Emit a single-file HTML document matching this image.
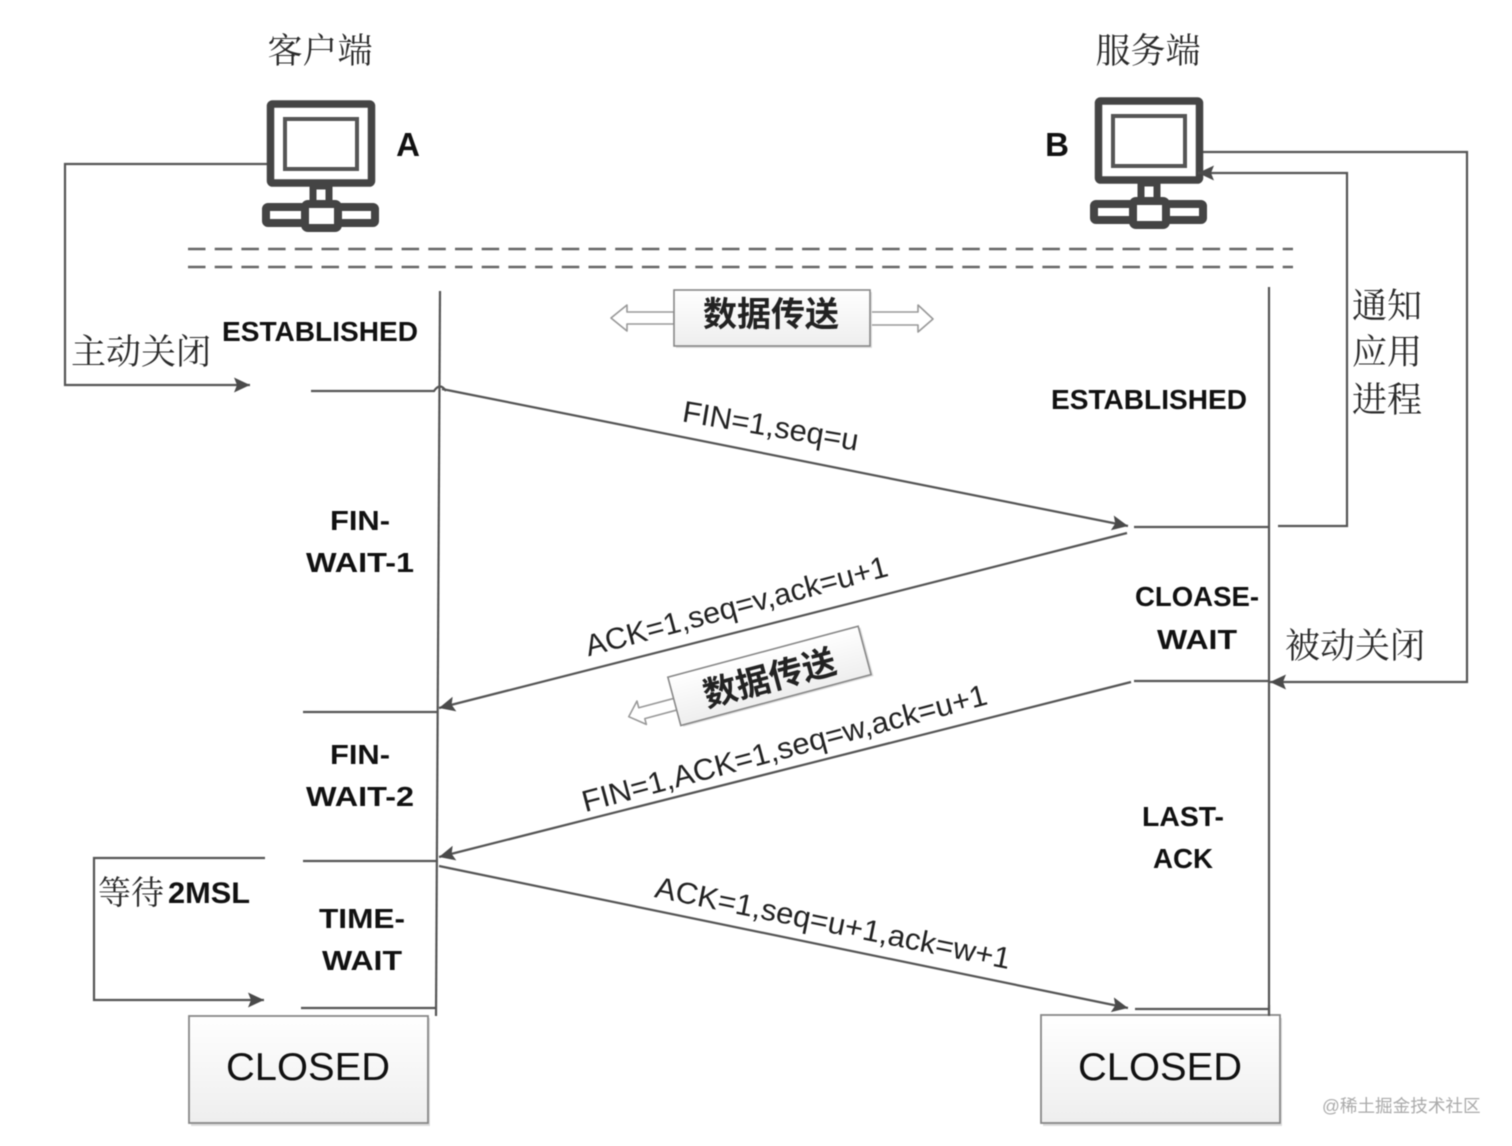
<!DOCTYPE html>
<html><head><meta charset="utf-8"><style>
html,body{margin:0;padding:0;background:#fff}
svg{display:block;filter:blur(0.45px)}
.zh{font-family:"Liberation Serif","Noto Serif CJK SC",serif;fill:#2a2a2a}
.b{font-family:"Liberation Sans","Noto Sans CJK SC",sans-serif;font-weight:bold;font-size:28px;fill:#111}
.l{font-family:"Liberation Sans","Noto Sans CJK SC",sans-serif;font-size:30px;fill:#222}
.c{font-family:"Liberation Sans",sans-serif;font-size:39px;fill:#111}
.d{font-family:"Liberation Sans","Noto Sans CJK SC",sans-serif;font-weight:bold;font-size:34px;fill:#222}
</style></head><body>
<svg width="1512" height="1146" viewBox="0 0 1512 1146" xmlns="http://www.w3.org/2000/svg">
<defs>
<linearGradient id="g" x1="0" y1="0" x2="0" y2="1"><stop offset="0" stop-color="#fff"/><stop offset="1" stop-color="#eee"/></linearGradient>
<marker id="a" markerUnits="userSpaceOnUse" markerWidth="18" markerHeight="18" refX="16" refY="8" orient="auto"><path d="M0 0.5L16 8L0 15.5L3 8Z" fill="#4a4a4a"/></marker>
<g id="pc">
<rect x="270.5" y="104" width="101" height="79" rx="2" fill="#fff" stroke="#444" stroke-width="7.5"/>
<rect x="285" y="119" width="72" height="50" fill="#fff" stroke="#555" stroke-width="4"/>
<rect x="313" y="186" width="16" height="18" fill="#fff" stroke="#444" stroke-width="7"/>
<rect x="266" y="207" width="109" height="16" rx="2" fill="#fff" stroke="#444" stroke-width="8"/>
<rect x="305" y="204" width="33" height="24" rx="3" fill="#fff" stroke="#444" stroke-width="8"/>
</g>
</defs>
<rect width="1512" height="1146" fill="#fff"/>
<use href="#pc"/>
<use href="#pc" x="828" y="-3"/>
<text x="320" y="63" text-anchor="middle" class="zh" font-size="35">客户端</text>
<text x="1148" y="63" text-anchor="middle" class="zh" font-size="35">服务端</text>
<text x="408" y="156" text-anchor="middle" class="b" style="font-size:33px">A</text>
<text x="1057" y="156" text-anchor="middle" class="b" style="font-size:33px">B</text>

<g stroke="#666" stroke-width="2.5" fill="none" stroke-dasharray="17.5 9.2">
<path d="M188 249H1293"/><path d="M188 267H1293"/>
</g>

<g stroke="#555" stroke-width="2.2" fill="none">
<path d="M267 164H65V385H250" marker-end="url(#a)"/>
<path d="M1203 152H1467V682H1270" marker-end="url(#a)"/>
<path d="M1278 526H1347V173H1198" marker-end="url(#a)"/>
<path d="M265 858H94V1000H264" marker-end="url(#a)"/>
<path d="M440 291L436 1016"/>
<path d="M1269 287V1016"/>
<path d="M311 391H434Q440 382 446 391"/>
<path d="M442 389L1128 526" marker-end="url(#a)"/>
<path d="M1127 533L439 708" marker-end="url(#a)"/>
<path d="M1131 682L439 857" marker-end="url(#a)"/>
<path d="M439 866L1128 1008" marker-end="url(#a)"/>
<path d="M1134 527H1269"/>
<path d="M1134 681H1269"/>
<path d="M1135 1009H1269"/>
<path d="M303 712H438"/>
<path d="M303 861H438"/>
<path d="M301 1008H437"/>
</g>

<text x="320" y="341" text-anchor="middle" class="b" textLength="196" lengthAdjust="spacingAndGlyphs">ESTABLISHED</text>
<text x="1149" y="409" text-anchor="middle" class="b" textLength="196" lengthAdjust="spacingAndGlyphs">ESTABLISHED</text>
<text x="360" y="530" text-anchor="middle" class="b" textLength="60" lengthAdjust="spacingAndGlyphs">FIN-</text>
<text x="360" y="572" text-anchor="middle" class="b" textLength="108" lengthAdjust="spacingAndGlyphs">WAIT-1</text>
<text x="360" y="764" text-anchor="middle" class="b" textLength="60" lengthAdjust="spacingAndGlyphs">FIN-</text>
<text x="360" y="806" text-anchor="middle" class="b" textLength="108" lengthAdjust="spacingAndGlyphs">WAIT-2</text>
<text x="362" y="928" text-anchor="middle" class="b" textLength="86" lengthAdjust="spacingAndGlyphs">TIME-</text>
<text x="362" y="970" text-anchor="middle" class="b" textLength="80" lengthAdjust="spacingAndGlyphs">WAIT</text>
<text x="1197" y="606" text-anchor="middle" class="b" textLength="124" lengthAdjust="spacingAndGlyphs">CLOASE-</text>
<text x="1197" y="649" text-anchor="middle" class="b" textLength="80" lengthAdjust="spacingAndGlyphs">WAIT</text>
<text x="1183" y="826" text-anchor="middle" class="b" textLength="82" lengthAdjust="spacingAndGlyphs">LAST-</text>
<text x="1183" y="868" text-anchor="middle" class="b" textLength="60" lengthAdjust="spacingAndGlyphs">ACK</text>

<text x="141" y="364" text-anchor="middle" class="zh" font-size="35">主动关闭</text>
<text x="1355" y="658" text-anchor="middle" class="zh" font-size="35">被动关闭</text>
<text x="1387" y="318" text-anchor="middle" class="zh" font-size="35">通知</text>
<text x="1387" y="364" text-anchor="middle" class="zh" font-size="35">应用</text>
<text x="1387" y="412" text-anchor="middle" class="zh" font-size="35">进程</text>
<text x="98" y="904" class="zh" font-size="33">等待</text>
<text x="168" y="903" class="b" textLength="82" lengthAdjust="spacingAndGlyphs" style="font-size:30px">2MSL</text>

<text transform="translate(769 436) rotate(9.5)" text-anchor="middle" class="l" textLength="178" lengthAdjust="spacingAndGlyphs">FIN=1,seq=u</text>
<text transform="translate(739 616) rotate(-15)" text-anchor="middle" class="l" textLength="312" lengthAdjust="spacingAndGlyphs">ACK=1,seq=v,ack=u+1</text>
<text transform="translate(787 758) rotate(-15)" text-anchor="middle" class="l" textLength="418" lengthAdjust="spacingAndGlyphs">FIN=1,ACK=1,seq=w,ack=u+1</text>
<text transform="translate(831 933) rotate(11.5)" text-anchor="middle" class="l" textLength="362" lengthAdjust="spacingAndGlyphs">ACK=1,seq=u+1,ack=w+1</text>

<!-- data transfer top -->
<g fill="#fff" stroke="#999" stroke-width="1.6" stroke-linejoin="round">
<path d="M674 312H627V305L611 318L627 331V324H674Z"/>
<path d="M870 312H918V305L933 319L918 332V325H870Z"/>
</g>
<rect x="676" y="292" width="196" height="56" fill="#ddd"/>
<rect x="674" y="290" width="196" height="56" fill="url(#g)" stroke="#888" stroke-width="1.6"/>
<text x="771" y="326" text-anchor="middle" class="d">数据传送</text>

<!-- data transfer rotated -->
<g transform="translate(769 676) rotate(-15)">
<path d="M-96 -3H-134V-10L-146 3L-131 15V9H-96Z" fill="#fff" stroke="#999" stroke-width="1.6" stroke-linejoin="round"/>
<rect x="-96" y="-23" width="197" height="50" fill="#ddd"/>
<rect x="-98" y="-25" width="197" height="50" fill="url(#g)" stroke="#888" stroke-width="1.6"/>
<text x="0" y="14" text-anchor="middle" class="d">数据传送</text>
</g>

<!-- closed -->
<rect x="191" y="1018" width="239" height="108" fill="#ddd"/>
<rect x="189" y="1016" width="239" height="107" fill="url(#g)" stroke="#888" stroke-width="1.8"/>
<text x="308" y="1080" text-anchor="middle" class="c" textLength="164" lengthAdjust="spacingAndGlyphs">CLOSED</text>
<rect x="1043" y="1018" width="239" height="108" fill="#ddd"/>
<rect x="1041" y="1015" width="239" height="108" fill="url(#g)" stroke="#888" stroke-width="1.8"/>
<text x="1160" y="1080" text-anchor="middle" class="c" textLength="164" lengthAdjust="spacingAndGlyphs">CLOSED</text>
<path d="M1269 1005V1016" stroke="#555" stroke-width="2.2"/>

<text x="1322" y="1112" font-family="'Liberation Sans','Noto Sans CJK SC',sans-serif" font-size="17.6" fill="#aaa">@稀土掘金技术社区</text>
</svg>
</body></html>
